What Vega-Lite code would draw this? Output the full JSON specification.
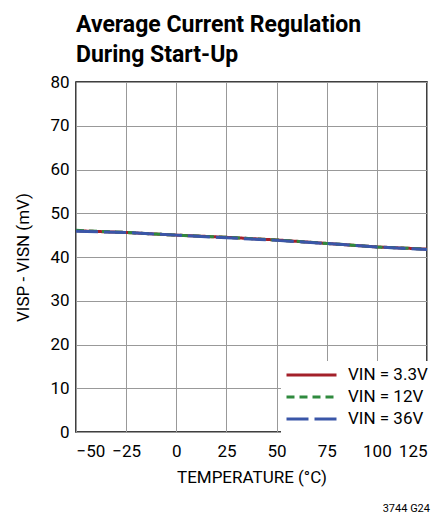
{
  "$schema": "https://vega.github.io/schema/vega-lite/v6.json",
  "background": "white",
  "padding": {"left": 14, "top": 13, "right": 5, "bottom": 0},
  "title": {
    "text": "3744 G24",
    "orient": "bottom",
    "anchor": "end",
    "fontSize": 11,
    "fontWeight": "normal",
    "color": "black",
    "offset": 17,
    "dx": -2
  },
  "vconcat": [
    {
      "width": 351,
      "height": 350,
      "title": {
        "text": ["Average Current Regulation", "During Start-Up"],
        "anchor": "start",
        "frame": "group",
        "fontSize": 23,
        "fontWeight": "bold",
        "lineHeight": 30,
        "offset": 6,
        "color": "black"
      },
      "data": {
        "values": [
          {"t": -50, "v": 46.0, "s": "VIN = 3.3V"},
          {"t": -25, "v": 45.6, "s": "VIN = 3.3V"},
          {"t": 0, "v": 45.0, "s": "VIN = 3.3V"},
          {"t": 25, "v": 44.5, "s": "VIN = 3.3V"},
          {"t": 50, "v": 43.9, "s": "VIN = 3.3V"},
          {"t": 75, "v": 43.1, "s": "VIN = 3.3V"},
          {"t": 100, "v": 42.3, "s": "VIN = 3.3V"},
          {"t": 125, "v": 41.8, "s": "VIN = 3.3V"},
          {"t": -50, "v": 46.1, "s": "VIN = 12V"},
          {"t": -25, "v": 45.6, "s": "VIN = 12V"},
          {"t": 0, "v": 45.0, "s": "VIN = 12V"},
          {"t": 25, "v": 44.5, "s": "VIN = 12V"},
          {"t": 50, "v": 43.9, "s": "VIN = 12V"},
          {"t": 75, "v": 43.1, "s": "VIN = 12V"},
          {"t": 100, "v": 42.3, "s": "VIN = 12V"},
          {"t": 125, "v": 41.8, "s": "VIN = 12V"},
          {"t": -50, "v": 45.9, "s": "VIN = 36V"},
          {"t": -25, "v": 45.6, "s": "VIN = 36V"},
          {"t": 0, "v": 45.0, "s": "VIN = 36V"},
          {"t": 25, "v": 44.4, "s": "VIN = 36V"},
          {"t": 50, "v": 43.8, "s": "VIN = 36V"},
          {"t": 75, "v": 43.1, "s": "VIN = 36V"},
          {"t": 100, "v": 42.3, "s": "VIN = 36V"},
          {"t": 125, "v": 41.7, "s": "VIN = 36V"}
        ]
      },
      "mark": {"type": "line", "strokeWidth": 3, "clip": true},
      "encoding": {
        "x": {
          "field": "t",
          "type": "quantitative",
          "scale": {"domain": [-50, 125], "nice": false},
          "axis": {"values": [-50, -25, 0, 25, 50, 75, 100, 125], "title": "TEMPERATURE (°C)", "labelPadding": 11, "titlePadding": 10}
        },
        "y": {
          "field": "v",
          "type": "quantitative",
          "scale": {"domain": [0, 80], "nice": false},
          "axis": {"values": [0, 10, 20, 30, 40, 50, 60, 70, 80], "title": "VISP - VISN (mV)", "labelPadding": 7, "titlePadding": 17}
        },
        "color": {
          "field": "s",
          "type": "nominal",
          "scale": {"domain": ["VIN = 3.3V", "VIN = 12V", "VIN = 36V"], "range": ["#a3202a", "#2f8a3e", "#3a56a8"]},
          "legend": {"title": null}
        },
        "strokeDash": {
          "field": "s",
          "type": "nominal",
          "scale": {"domain": ["VIN = 3.3V", "VIN = 12V", "VIN = 36V"], "range": [[1, 0], [8, 5], [22, 6]]},
          "legend": {"title": null}
        }
      }
    }
  ],
  "config": {
    "font": "Roboto",
    "view": {"stroke": "black", "strokeWidth": 1.5},
    "axis": {
      "grid": true,
      "gridColor": "#999999",
      "gridWidth": 1,
      "gridOpacity": 1,
      "domain": false,
      "ticks": false,
      "labelFontSize": 17,
      "labelColor": "black",
      "labelFont": "Roboto",
      "titleFont": "Roboto",
      "titleFontSize": 17,
      "titleFontWeight": "normal",
      "titleColor": "black"
    },
    "legend": {
      "orient": "none",
      "legendX": 205,
      "legendY": 279,
      "fillColor": "white",
      "padding": 4,
      "symbolType": "stroke",
      "symbolSize": 2500,
      "symbolStrokeWidth": 3,
      "clipHeight": 20,
      "labelFontSize": 17,
      "labelFont": "Roboto",
      "labelColor": "black",
      "labelOffset": 10,
      "rowPadding": 2
    },
    "title": {"font": "Roboto"}
  }
}
